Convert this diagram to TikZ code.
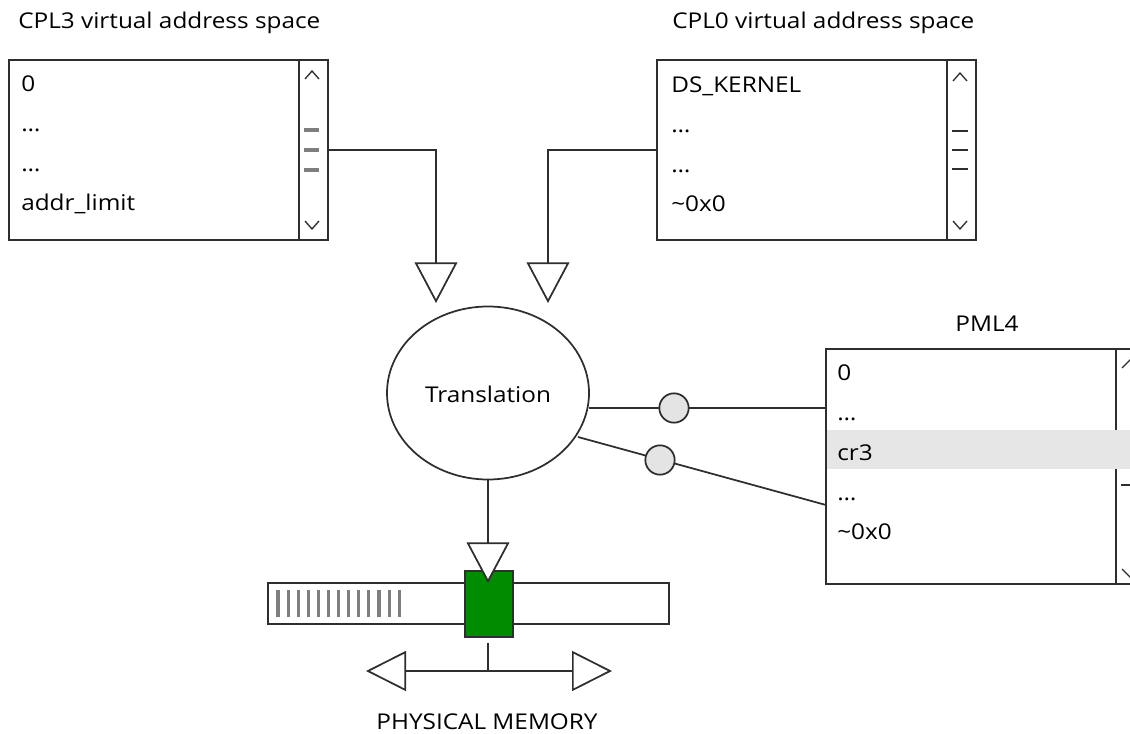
\documentclass[tikz,border=0pt]{standalone}
\usepackage{fontspec}
\setmainfont{Open Sans}[FakeStretch=1.12]
\usetikzlibrary{arrows.meta,shapes.geometric}
\definecolor{inkc}{HTML}{2E2E2E}
\definecolor{barc}{HTML}{7E7E7E}
\definecolor{selc}{HTML}{008C00}
\definecolor{hilite}{HTML}{E6E6E6}
\definecolor{knob}{HTML}{E4E4E4}
\newcommand\entryfont{\fontsize{16.3}{19}\selectfont}
\begin{document}
\begin{tikzpicture}[x=0.75pt, y=-0.75pt,
  ink/.style={draw=inkc, line width=1.3pt},
  listbox/.style={ink, fill=white, rectangle, inner sep=0pt,
    minimum width=319*0.75pt, minimum height=180*0.75pt},
  entry/.style={anchor=base west, inner sep=0pt, font=\entryfont, text=black},
  caption/.style={anchor=base, inner sep=0pt, font=\entryfont, text=black},
  headline/.style={anchor=base west, inner sep=0pt, font=\entryfont, text=black},
  hollowtip/.style={ink, -{Triangle[fill=white, length=30.5pt, width=32pt]}},
  twoway/.style={ink, {Triangle[fill=white, length=30pt, width=30pt]}-{Triangle[fill=white, length=30pt, width=30pt]}},
  glyph/.style={draw=inkc, line width=1pt},
  thumb/.style={draw=barc, line width=2.3pt},
  knobdot/.style={circle, ink, fill=knob, minimum size=22pt, inner sep=0pt},
  tick/.style={draw=barc, line width=2.3pt}]
\clip (0,0) rectangle (1130,734);
\fill[white] (0,0) rectangle (1130,734);

% ---------- user space list box ----------
\node[headline] (t3) at (18,29) {CPL3 virtual address space};
\node[listbox] (cpl3) at (168.5,150) {};
\draw[ink] (299,60) -- (299,240);
\draw[glyph] (305,79) -- (312,71) -- (319,79);
\foreach \y in {130,150,170} \draw[thumb] (304,\y) -- (319,\y);
\draw[glyph] (305,221) -- (312,229) -- (319,221);
\node[entry] (u0) at (21,92) {0};
\node[entry] (u1) at (21,132) {…};
\node[entry] (u2) at (21,172) {…};
\node[entry] (u3) at (21,211) {addr\_limit};

% ---------- kernel space list box ----------
\node[headline] (t0) at (672,29) {CPL0 virtual address space};
\node[listbox] (cpl0) at (816.5,150) {};
\draw[ink] (947,60) -- (947,240);
\draw[glyph] (953,81) -- (960,73) -- (967,81);
\foreach \y in {131,150,169} \draw[glyph] (952,\y) -- (968,\y);
\draw[glyph] (953,221) -- (960,229) -- (967,221);
\node[entry] (k0) at (671,93) {DS\_KERNEL};
\node[entry] (k1) at (671,133) {…};
\node[entry] (k2) at (671,173) {…};
\node[entry] (k3) at (671,212) {\textasciitilde 0x0};

% ---------- translation unit ----------
\node[ellipse, ink, fill=white, minimum width=202*0.75pt, minimum height=173*0.75pt,
  inner sep=0pt] (tr) at (488,393) {};
\node[caption] (trl) at (488,402) {Translation};

\coordinate (in3) at (436,303);
\coordinate (in0) at (548,303);
\draw[hollowtip] (cpl3.east) -| (in3);
\draw[hollowtip] (cpl0.west) -| (in0);

% ---------- page table ----------
\node[caption] (pt) at (987,331) {PML4};
\node[listbox, minimum height=235*0.75pt] (pml4) at (985.5,466.5) {};
\fill[hilite] (827,430) rectangle (1130,469);
\draw[ink] (1116,349) -- (1116,430) (1116,469) -- (1116,584);
\draw[glyph] (1122,368) -- (1130,360) -- (1138,368);
\draw[glyph] (1121,485) -- (1137,485);
\draw[glyph] (1122,569) -- (1130,577) -- (1138,569);
\node[entry] (p0) at (837,380) {0};
\node[entry] (p1) at (837,420) {…};
\node[entry] (p2) at (837,460) {cr3};
\node[entry] (p3) at (837,500) {…};
\node[entry] (p4) at (837,539) {\textasciitilde 0x0};

\coordinate (tra) at (589,408);
\coordinate (trb) at (578,437);
\coordinate (pa) at (826,408);
\coordinate (pb) at (826,505);
\draw[ink] (tra) -- (pa);
\draw[ink] (trb) -- (pb);
\node[knobdot] (ka) at (674,408) {};
\node[knobdot] (kb) at (660,460) {};

% ---------- physical memory ----------
\node[rectangle, ink, fill=white, inner sep=0pt, minimum width=401*0.75pt,
  minimum height=41*0.75pt] (mem) at (468.5,603.5) {};
\foreach \i in {0,...,12} \draw[tick] ({278+10.1*\i},590) -- ({278+10.1*\i},617);
\node[rectangle, ink, fill=selc, inner sep=0pt, minimum width=48*0.75pt,
  minimum height=66*0.75pt] (sel) at (489,604) {};
\coordinate (hit) at (488,583);
\draw[hollowtip] (tr.south) -- (hit);

\coordinate (stem) at (488,643);
\coordinate (axis) at (488,671);
\coordinate (lo) at (366,671);
\coordinate (hi) at (612,671);
\draw[ink] (stem) -- (axis);
\draw[twoway] (lo) -- (hi);
\node[caption] (pm) at (487,729) {PHYSICAL MEMORY};
\end{tikzpicture}
\end{document}
